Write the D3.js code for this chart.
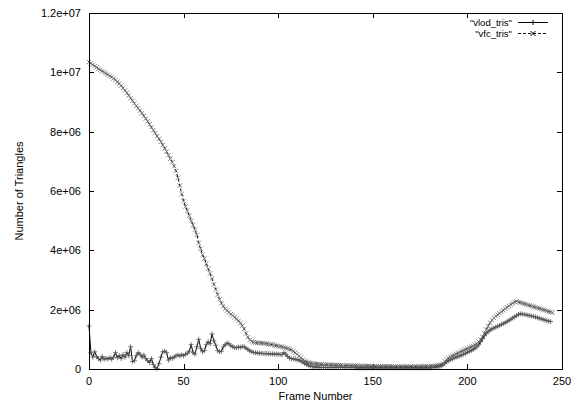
<!DOCTYPE html>
<html>
<head>
<meta charset="utf-8">
<script src="https://cdn.jsdelivr.net/npm/d3@7"></script>
<style>
  html, body { margin: 0; padding: 0; background: #fff; }
  svg { display: block; }
  text { font-family: "Liberation Sans", Arial, sans-serif; fill: #000; }
</style>
</head>
<body>
<svg id="chart" width="571" height="404"></svg>
<script>
// ---- data (values in millions of triangles, one per frame starting at 0) ----
const UNIT = 1e6;
const seriesNames = ['"vlod_tris"', '"vfc_tris"'];
const xTicks = [0, 50, 100, 150, 200, 250];
const yTicks = [0, 2e6, 4e6, 6e6, 8e6, 1e7, 1.2e7];
const yTickLabels = ["0", "2e+06", "4e+06", "6e+06", "8e+06", "1e+07", "1.2e+07"];

const vlodTris = [
  1.45, 0.55, 0.40, 0.58, 0.42, 0.35, 0.30, 0.42, 0.33, 0.36,
  0.34, 0.38, 0.33, 0.40, 0.55, 0.38, 0.45, 0.35, 0.48, 0.40,
  0.55, 0.45, 0.75, 0.25, 0.28, 0.45, 0.55, 0.50, 0.40, 0.47,
  0.35, 0.28, 0.22, 0.35, 0.15, 0.05, 0.02, 0.18, 0.40, 0.58,
  0.60, 0.55, 0.30, 0.38, 0.36, 0.40, 0.45, 0.47, 0.44, 0.48,
  0.45, 0.50, 0.53, 0.60, 0.82, 0.55, 0.50, 0.75, 1.00, 0.70,
  0.58, 0.62, 0.82, 0.92, 0.85, 1.18, 0.95, 0.80, 0.62, 0.58,
  0.60, 0.75, 0.82, 0.87, 0.85, 0.78, 0.75, 0.72, 0.72, 0.74,
  0.73, 0.76, 0.75, 0.70, 0.66, 0.61, 0.58, 0.56, 0.55, 0.54,
  0.53, 0.53, 0.52, 0.52, 0.52, 0.51, 0.51, 0.51, 0.50, 0.50,
  0.50, 0.49, 0.48, 0.55, 0.50, 0.42, 0.37, 0.35, 0.34, 0.33,
  0.31, 0.30, 0.27, 0.23, 0.19, 0.15, 0.12, 0.10, 0.08, 0.07,
  0.06, 0.06, 0.05, 0.05, 0.05, 0.05, 0.05, 0.05, 0.05, 0.05,
  0.05, 0.05, 0.05, 0.05, 0.05, 0.05, 0.05, 0.05, 0.05, 0.05,
  0.05, 0.04, 0.04, 0.04, 0.04, 0.04, 0.04, 0.04, 0.04, 0.04,
  0.04, 0.04, 0.04, 0.04, 0.04, 0.04, 0.04, 0.04, 0.04, 0.04,
  0.04, 0.04, 0.04, 0.04, 0.04, 0.04, 0.04, 0.04, 0.04, 0.04,
  0.04, 0.04, 0.04, 0.04, 0.04, 0.04, 0.04, 0.04, 0.04, 0.04,
  0.04, 0.04, 0.05, 0.06, 0.07, 0.08, 0.10, 0.14, 0.19, 0.24,
  0.28, 0.31, 0.34, 0.37, 0.40, 0.42, 0.44, 0.47, 0.50, 0.53,
  0.56, 0.59, 0.62, 0.66, 0.70, 0.75, 0.82, 0.92, 1.02, 1.12,
  1.20, 1.26, 1.31, 1.35, 1.38, 1.41, 1.44, 1.47, 1.50, 1.53,
  1.56, 1.60, 1.64, 1.68, 1.72, 1.76, 1.80, 1.84, 1.86, 1.85,
  1.84, 1.83, 1.81, 1.80, 1.78, 1.77, 1.75, 1.73, 1.71, 1.69,
  1.67, 1.65, 1.63, 1.61, 1.60
];

const vfcTris = [
  10.35, 10.30, 10.26, 10.21, 10.17, 10.12, 10.08, 10.04, 10.00, 9.96,
  9.92, 9.88, 9.84, 9.79, 9.74, 9.68, 9.62, 9.55, 9.47, 9.39,
  9.31, 9.22, 9.13, 9.04, 8.95, 8.87, 8.79, 8.71, 8.62, 8.53,
  8.44, 8.35, 8.25, 8.15, 8.05, 7.95, 7.85, 7.76, 7.66, 7.55,
  7.44, 7.33, 7.21, 7.09, 6.97, 6.84, 6.68, 6.45, 6.18, 5.90,
  5.66, 5.48, 5.33, 5.17, 5.00, 4.85, 4.70, 4.52, 4.25, 4.05,
  3.85, 3.72, 3.55, 3.38, 3.22, 3.05, 2.85, 2.68, 2.50, 2.35,
  2.22, 2.12, 2.03, 1.97, 1.91, 1.85, 1.80, 1.74, 1.69, 1.62,
  1.55, 1.46, 1.35, 1.20, 1.07, 0.98, 0.93, 0.90, 0.89, 0.88,
  0.88, 0.87, 0.87, 0.86, 0.85, 0.84, 0.83, 0.82, 0.80, 0.79,
  0.77, 0.76, 0.75, 0.73, 0.71, 0.69, 0.67, 0.64, 0.60, 0.55,
  0.50, 0.44, 0.38, 0.32, 0.27, 0.24, 0.22, 0.20, 0.19, 0.18,
  0.17, 0.17, 0.16, 0.16, 0.15, 0.15, 0.15, 0.14, 0.14, 0.14,
  0.13, 0.13, 0.13, 0.13, 0.12, 0.12, 0.12, 0.12, 0.11, 0.11,
  0.11, 0.11, 0.11, 0.10, 0.10, 0.10, 0.10, 0.10, 0.10, 0.09,
  0.09, 0.09, 0.09, 0.09, 0.09, 0.09, 0.09, 0.09, 0.09, 0.09,
  0.09, 0.08, 0.08, 0.08, 0.08, 0.08, 0.08, 0.08, 0.08, 0.08,
  0.08, 0.08, 0.08, 0.08, 0.08, 0.08, 0.09, 0.09, 0.09, 0.09,
  0.09, 0.10, 0.10, 0.11, 0.12, 0.13, 0.15, 0.19, 0.26, 0.32,
  0.37, 0.41, 0.45, 0.48, 0.51, 0.54, 0.57, 0.60, 0.63, 0.66,
  0.69, 0.72, 0.75, 0.78, 0.82, 0.86, 0.92, 0.99, 1.08, 1.20,
  1.33, 1.45, 1.56, 1.65, 1.72, 1.78, 1.83, 1.88, 1.93, 1.98,
  2.03, 2.08, 2.13, 2.18, 2.22, 2.26, 2.28, 2.26, 2.24, 2.22,
  2.20, 2.18, 2.16, 2.14, 2.12, 2.10, 2.08, 2.06, 2.04, 2.02,
  2.00, 1.98, 1.96, 1.94, 1.92, 1.90
];

// ---- layout ----
const svg = d3.select("#chart");
const L = 89, R = 562, T = 13, B = 369;
const x = d3.scaleLinear().domain([0, 250]).range([L, R]);
const y = d3.scaleLinear().domain([0, 1.2e7]).range([B, T]);
const tickLen = 5;

// ticks (inward, mirrored)
const axG = svg.append("g").attr("stroke", "#000").attr("stroke-width", 1);
xTicks.forEach(t => {
  const px = Math.round(x(t)) + 0.5;
  axG.append("line").attr("x1", px).attr("x2", px).attr("y1", B).attr("y2", B - tickLen);
  axG.append("line").attr("x1", px).attr("x2", px).attr("y1", T).attr("y2", T + tickLen);
});
yTicks.forEach(t => {
  const py = Math.round(y(t)) + 0.5;
  axG.append("line").attr("x1", L).attr("x2", L + tickLen).attr("y1", py).attr("y2", py);
  axG.append("line").attr("x1", R).attr("x2", R - tickLen).attr("y1", py).attr("y2", py);
});

// tick labels
svg.append("g").selectAll("text").data(xTicks).join("text")
  .attr("x", d => x(d)).attr("y", B + 16)
  .attr("text-anchor", "middle").attr("font-size", 11)
  .text(d => d);
svg.append("g").selectAll("text").data(yTicks).join("text")
  .attr("x", L - 8).attr("y", d => y(d) + 4)
  .attr("text-anchor", "end").attr("font-size", 11)
  .text((d, i) => yTickLabels[i]);

// axis titles
svg.append("text").attr("x", (L + R) / 2 - 10).attr("y", 400)
  .attr("text-anchor", "middle").attr("font-size", 11).text("Frame Number");
svg.append("text").attr("transform", `translate(23, ${(T + B) / 2}) rotate(-90)`)
  .attr("text-anchor", "middle").attr("font-size", 11).text("Number of Triangles");

// data series
const plot = svg.append("g");
const lineGen = d3.line().x((d, i) => x(i)).y(d => y(d * UNIT));

function plusPath(cx, cy, s) {
  return `M${cx - s},${cy}H${cx + s}M${cx},${cy - s}V${cy + s}`;
}
function crossPath(cx, cy, s) {
  return `M${cx - s},${cy - s}L${cx + s},${cy + s}M${cx - s},${cy + s}L${cx + s},${cy - s}`;
}

// vfc (dashed line, x markers)
plot.append("path").datum(vfcTris)
  .attr("d", lineGen).attr("fill", "none")
  .attr("stroke", "#000").attr("stroke-width", 1).attr("stroke-dasharray", "3,2");
plot.append("path")
  .attr("d", vfcTris.map((d, i) => crossPath(x(i), y(d * UNIT), 2.2)).join(""))
  .attr("fill", "none").attr("stroke", "#666").attr("stroke-width", 0.8);

// vlod (solid line, + markers)
plot.append("path").datum(vlodTris)
  .attr("d", lineGen).attr("fill", "none")
  .attr("stroke", "#000").attr("stroke-width", 1);
plot.append("path")
  .attr("d", vlodTris.map((d, i) => plusPath(x(i), y(d * UNIT), 2.5)).join(""))
  .attr("fill", "none").attr("stroke", "#555").attr("stroke-width", 0.8);

// legend
const legRows = [
  { name: seriesNames[0], y: 22.5, dash: null, mark: plusPath },
  { name: seriesNames[1], y: 33.5, dash: "3,2", mark: crossPath }
];
const lg = svg.append("g");
legRows.forEach(r => {
  lg.append("text").attr("x", 512).attr("y", r.y + 3.5)
    .attr("text-anchor", "end").attr("font-size", 9.5).text(r.name);
  lg.append("line").attr("x1", 518).attr("x2", 548).attr("y1", r.y).attr("y2", r.y)
    .attr("stroke", "#000").attr("stroke-width", 1)
    .attr("stroke-dasharray", r.dash);
  lg.append("path").attr("d", r.mark(533, r.y, 2.5))
    .attr("fill", "none").attr("stroke", "#000").attr("stroke-width", 1);
});

// border
svg.append("rect").attr("x", L + 0.5).attr("y", T + 0.5)
  .attr("width", R - L).attr("height", B - T)
  .attr("fill", "none").attr("stroke", "#000").attr("stroke-width", 1);
</script>
</body>
</html>
